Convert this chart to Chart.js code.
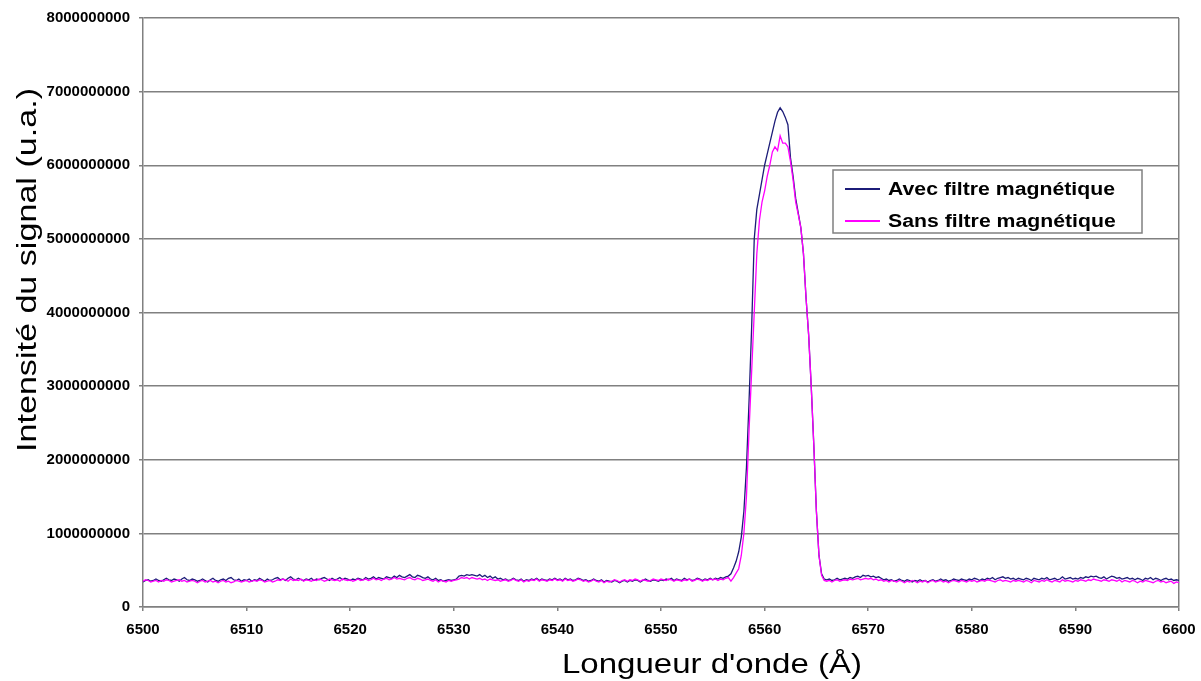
<!DOCTYPE html>
<html>
<head>
<meta charset="utf-8">
<script src="https://cdn.jsdelivr.net/npm/chart.js@4.4.0/dist/chart.umd.min.js"></script>
<style>
  html, body { margin: 0; padding: 0; background: #fff; }
</style>
</head>
<body>
<canvas id="myChart" width="1201" height="681"></canvas>
<script>
// longueurs d'onde : de 6500 Å par pas de 0.25 Å
const startWl = 6500;
const stepWl = 0.25;

// intensités, en unités de 1e8 (u.a.)
const avecFiltre = [
  3.4, 3.6, 3.7, 3.5, 3.6, 3.8, 3.6, 3.5, 3.7, 3.9, 3.7, 3.6, 3.8, 3.7, 3.5, 3.8, 4.0, 3.7, 3.6, 3.8,
  3.7, 3.5, 3.6, 3.8, 3.6, 3.4, 3.7, 3.9, 3.6, 3.5, 3.7, 3.8, 3.6, 3.9, 4.0, 3.7, 3.6, 3.8, 3.5, 3.7,
  3.6, 3.8, 3.5, 3.7, 3.6, 3.9, 3.7, 3.5, 3.8, 3.6, 3.7, 3.9, 4.0, 3.7, 3.8, 3.6, 3.9, 4.1, 3.8, 3.7,
  3.9, 3.7, 3.6, 3.8, 3.7, 3.9, 3.6, 3.8, 3.7, 3.9, 4.0, 3.8, 3.6, 3.9, 3.7, 3.8, 4.0, 3.7, 3.9, 3.8,
  3.6, 3.8, 3.7, 3.9, 3.8, 3.7, 4.0, 3.8, 3.9, 4.1, 3.8, 4.0, 3.9, 3.8, 4.1, 4.0, 3.9, 4.2, 4.0, 4.3,
  4.1, 4.0, 4.2, 4.4, 4.1, 4.0, 4.3, 4.2, 4.0, 3.9, 4.1, 3.8, 3.7, 3.9, 3.6, 3.7, 3.5, 3.6, 3.7, 3.6,
  3.7, 3.8, 4.2, 4.3, 4.2, 4.4, 4.3, 4.4, 4.3, 4.2, 4.4, 4.1, 4.3, 4.0, 4.2, 3.9, 4.1, 3.8, 3.9, 3.7,
  3.8, 3.6, 3.7, 3.9, 3.7, 3.6, 3.8, 3.5, 3.7, 3.6, 3.8, 3.7, 3.9, 3.6, 3.8, 3.7, 3.6, 3.8, 3.7, 3.9,
  3.7, 3.8, 3.6, 3.9, 3.7, 3.8, 3.6, 3.7, 3.9, 3.8, 3.6, 3.7, 3.5, 3.6, 3.8, 3.6, 3.5, 3.7, 3.4, 3.6,
  3.5, 3.4, 3.6, 3.5, 3.3, 3.5, 3.6, 3.4, 3.6, 3.5, 3.7, 3.6, 3.4, 3.6, 3.8, 3.6, 3.5, 3.7, 3.6, 3.5,
  3.7, 3.6, 3.8, 3.7, 3.9, 3.6, 3.8, 3.7, 3.6, 3.9, 3.7, 3.8, 3.6, 3.7, 3.9, 3.8, 3.6, 3.8, 3.7, 3.9,
  3.7, 3.9, 3.8, 4.0, 3.9, 4.1, 4.2, 4.5, 5.3, 6.2, 7.5, 9.5, 13, 19, 28, 38, 50, 54, 56, 58,
  60, 61.5, 63, 64.5, 66, 67.2, 67.8, 67.3, 66.5, 65.5, 61, 58.5, 55.5, 53.5, 51.5, 48, 42, 37, 30, 22,
  13, 7, 4.5, 3.8, 3.7, 3.8, 3.6, 3.7, 3.9, 3.7, 3.8, 3.9, 3.8, 4.0, 3.9, 4.1, 4.2, 4.0, 4.3, 4.2,
  4.3, 4.1, 4.2, 4.0, 4.1, 3.9, 3.7, 3.8, 3.6, 3.7, 3.5, 3.6, 3.8, 3.6, 3.5, 3.7, 3.6, 3.4, 3.6, 3.5,
  3.7, 3.5, 3.6, 3.4, 3.6, 3.7, 3.5, 3.6, 3.8, 3.6, 3.7, 3.5, 3.6, 3.8, 3.7, 3.6, 3.8, 3.7, 3.6, 3.8,
  3.7, 3.9, 3.8, 3.6, 3.8, 3.7, 3.9, 3.8, 4.0, 3.7, 3.9, 4.0, 4.1, 3.9, 4.0, 3.8, 3.9, 3.7, 3.9, 3.8,
  3.7, 3.9, 3.8, 3.6, 3.9, 3.8, 3.7, 3.9, 3.8, 4.0, 3.7, 3.8, 3.9, 3.7, 3.8, 4.1, 3.8, 3.9, 4.0, 3.8,
  3.9, 3.8, 4.0, 3.9, 4.1, 4.0, 4.2, 4.1, 4.2, 4.0, 3.9, 4.1, 3.8, 4.0, 4.2, 4.1, 3.9, 4.0, 3.8, 3.9,
  4.0, 3.8, 3.9, 3.7, 3.9, 3.8, 3.6, 3.9, 3.8, 4.0, 3.7, 3.9, 3.8, 3.6, 3.8, 3.9, 3.7, 3.8, 3.6, 3.7,
  3.6
];

const sansFiltre = [
  3.5, 3.7, 3.6, 3.4, 3.5, 3.6, 3.4, 3.6, 3.5, 3.7, 3.6, 3.4, 3.5, 3.6, 3.7, 3.5, 3.6, 3.4, 3.5, 3.6,
  3.5, 3.3, 3.5, 3.6, 3.4, 3.5, 3.6, 3.4, 3.5, 3.3, 3.5, 3.6, 3.4, 3.5, 3.3, 3.4, 3.6, 3.5, 3.4, 3.5,
  3.6, 3.4, 3.5, 3.6, 3.5, 3.7, 3.6, 3.4, 3.5, 3.6, 3.4, 3.5, 3.7, 3.6, 3.8, 3.7, 3.5, 3.8, 3.6, 3.7,
  3.6, 3.8, 3.5, 3.7, 3.6, 3.5, 3.7, 3.6, 3.8, 3.7, 3.5, 3.6, 3.8, 3.7, 3.6, 3.7, 3.5, 3.8, 3.7, 3.6,
  3.7, 3.5, 3.6, 3.8, 3.6, 3.7, 3.8, 3.6, 3.7, 3.9, 3.7, 3.8, 3.6, 3.8, 3.9, 3.7, 3.8, 4.0, 3.8, 3.9,
  3.8, 3.7, 3.9, 4.0, 3.8, 3.7, 3.9, 3.8, 3.6, 3.7, 3.8, 3.6, 3.5, 3.7, 3.4, 3.6, 3.5, 3.4, 3.6, 3.5,
  3.6, 3.7, 3.8, 4.0, 3.9, 4.0, 3.8, 4.0, 3.9, 3.8, 3.9, 3.7, 3.8, 3.6, 3.8, 3.7, 3.6, 3.7, 3.5, 3.6,
  3.7, 3.5, 3.6, 3.8, 3.6, 3.5, 3.7, 3.4, 3.6, 3.5, 3.7, 3.6, 3.8, 3.5, 3.7, 3.6, 3.5, 3.7, 3.6, 3.8,
  3.6, 3.7, 3.5, 3.8, 3.6, 3.7, 3.5, 3.6, 3.8, 3.7, 3.5, 3.6, 3.4, 3.5, 3.7, 3.5, 3.4, 3.6, 3.3, 3.5,
  3.4, 3.5, 3.7, 3.6, 3.4, 3.6, 3.7, 3.5, 3.7, 3.6, 3.8, 3.7, 3.5, 3.7, 3.6, 3.5, 3.6, 3.8, 3.7, 3.6,
  3.8, 3.7, 3.6, 3.8, 3.7, 3.5, 3.7, 3.6, 3.5, 3.7, 3.6, 3.8, 3.5, 3.6, 3.8, 3.7, 3.5, 3.7, 3.6, 3.8,
  3.7, 3.8, 3.6, 3.8, 3.7, 3.9, 4.0, 3.5, 4.0, 4.6, 5.2, 7.0, 10, 15, 24, 32, 40, 48, 52.5, 55,
  56.5, 58.5, 60, 61.8, 62.5, 62, 64, 63, 63, 62.5, 60.5, 58, 55, 53.3, 51.5, 48, 42, 37, 30, 22,
  13, 7, 4.3, 3.6, 3.5, 3.6, 3.4, 3.6, 3.7, 3.5, 3.6, 3.7, 3.6, 3.8, 3.7, 3.8, 3.9, 3.7, 3.8, 3.9,
  3.8, 3.9, 3.7, 3.8, 3.6, 3.7, 3.5, 3.6, 3.4, 3.6, 3.5, 3.4, 3.6, 3.5, 3.3, 3.5, 3.4, 3.6, 3.5, 3.3,
  3.5, 3.4, 3.6, 3.3, 3.5, 3.6, 3.4, 3.5, 3.6, 3.4, 3.5, 3.3, 3.5, 3.6, 3.5, 3.4, 3.6, 3.5, 3.4, 3.6,
  3.5, 3.6, 3.4, 3.5, 3.6, 3.5, 3.7, 3.6, 3.5, 3.4, 3.6, 3.7, 3.5, 3.6, 3.5, 3.4, 3.6, 3.5, 3.6, 3.5,
  3.4, 3.6, 3.5, 3.3, 3.6, 3.5, 3.4, 3.6, 3.5, 3.7, 3.5, 3.4, 3.6, 3.5, 3.4, 3.7, 3.5, 3.6, 3.5, 3.4,
  3.6, 3.5, 3.7, 3.6, 3.5, 3.7, 3.6, 3.8, 3.7, 3.6, 3.5, 3.7, 3.6, 3.5, 3.7, 3.6, 3.5, 3.7, 3.4, 3.6,
  3.5, 3.4, 3.6, 3.5, 3.3, 3.5, 3.4, 3.6, 3.5, 3.4, 3.3, 3.5, 3.6, 3.4, 3.5, 3.3, 3.4, 3.5, 3.2, 3.4,
  3.3
];

const seriesNames = ['Avec filtre magnétique', 'Sans filtre magnétique'];
const seriesColors = ['#1c1c78', '#ff00ff'];
const xTitle = "Longueur d'onde (Å)";
const yTitle = 'Intensité du signal (u.a.)';

const FONT = '"Liberation Sans", Arial, sans-serif';

function toPoints(arr) {
  return arr.map((v, i) => ({ x: startWl + i * stepWl, y: v * 1e8 }));
}

// titres des axes + légende dessinés à la main (placement libre comme dans Excel)
const overlay = {
  id: 'overlay',
  afterDraw(chart) {
    const c = chart.ctx;

    c.save();
    c.fillStyle = '#000';
    c.font = '27px ' + FONT;
    c.textAlign = 'center';
    c.textBaseline = 'alphabetic';
    let w = c.measureText(xTitle).width;
    c.translate(712, 673);
    c.scale(300 / w, 1);
    c.fillText(xTitle, 0, 0);
    c.restore();

    c.save();
    c.fillStyle = '#000';
    c.font = '27px ' + FONT;
    c.textAlign = 'center';
    c.textBaseline = 'alphabetic';
    w = c.measureText(yTitle).width;
    c.translate(36, 270);
    c.rotate(-Math.PI / 2);
    c.scale(364 / w, 1);
    c.fillText(yTitle, 0, 0);
    c.restore();

    // légende
    c.save();
    c.fillStyle = '#fff';
    c.fillRect(833, 170, 309, 63);
    c.strokeStyle = '#808080';
    c.lineWidth = 1.5;
    c.strokeRect(833, 170, 309, 63);
    c.font = 'bold 18px ' + FONT;
    c.textBaseline = 'middle';
    c.textAlign = 'left';
    const sx = 227 / c.measureText(seriesNames[0]).width;
    chart.data.datasets.forEach((ds, i) => {
      const yy = 189 + i * 32;
      c.strokeStyle = ds.borderColor;
      c.lineWidth = 2;
      c.beginPath();
      c.moveTo(845, yy);
      c.lineTo(880, yy);
      c.stroke();
      c.save();
      c.translate(888, yy + 1);
      c.scale(sx, 1);
      c.fillStyle = '#000';
      c.fillText(ds.label, 0, 0);
      c.restore();
    });
    c.restore();
  }
};

const ctx = document.getElementById('myChart').getContext('2d');
new Chart(ctx, {
  type: 'line',
  data: {
    datasets: [
      {
        label: seriesNames[0],
        data: toPoints(avecFiltre),
        borderColor: seriesColors[0],
        borderWidth: 1.3,
        pointRadius: 0,
        tension: 0,
        order: 2
      },
      {
        label: seriesNames[1],
        data: toPoints(sansFiltre),
        borderColor: seriesColors[1],
        borderWidth: 1.3,
        pointRadius: 0,
        tension: 0,
        order: 1
      }
    ]
  },
  options: {
    responsive: false,
    animation: false,
    events: [],
    layout: { padding: { top: 18, right: 22, left: 0, bottom: 0 } },
    plugins: {
      legend: { display: false },
      tooltip: { enabled: false }
    },
    scales: {
      x: {
        type: 'linear',
        min: 6500,
        max: 6600,
        ticks: {
          stepSize: 10,
          color: '#000',
          padding: 10,
          font: { family: FONT, size: 15, weight: 'bold' },
          callback: v => v.toFixed(0)
        },
        grid: {
          color: c => (c.tick && c.tick.value === 6600 ? '#808080' : 'rgba(0,0,0,0)'),
          tickColor: '#808080',
          tickLength: 4,
          lineWidth: 1.5
        },
        border: { color: '#808080', width: 1.5 },
        afterFit: s => { s.height = 74; s.paddingLeft = 0; s.paddingRight = 0; }
      },
      y: {
        min: 0,
        max: 8000000000,
        ticks: {
          stepSize: 1000000000,
          color: '#000',
          padding: 9,
          font: { family: FONT, size: 15, weight: 'bold' },
          callback: v => v.toFixed(0)
        },
        grid: {
          color: '#808080',
          tickColor: '#808080',
          tickLength: 4,
          lineWidth: 1.5
        },
        border: { color: '#808080', width: 1.5 },
        afterFit: s => { s.width = 143; s.paddingTop = 0; s.paddingBottom = 0; }
      }
    }
  },
  plugins: [overlay]
});
</script>
</body>
</html>
